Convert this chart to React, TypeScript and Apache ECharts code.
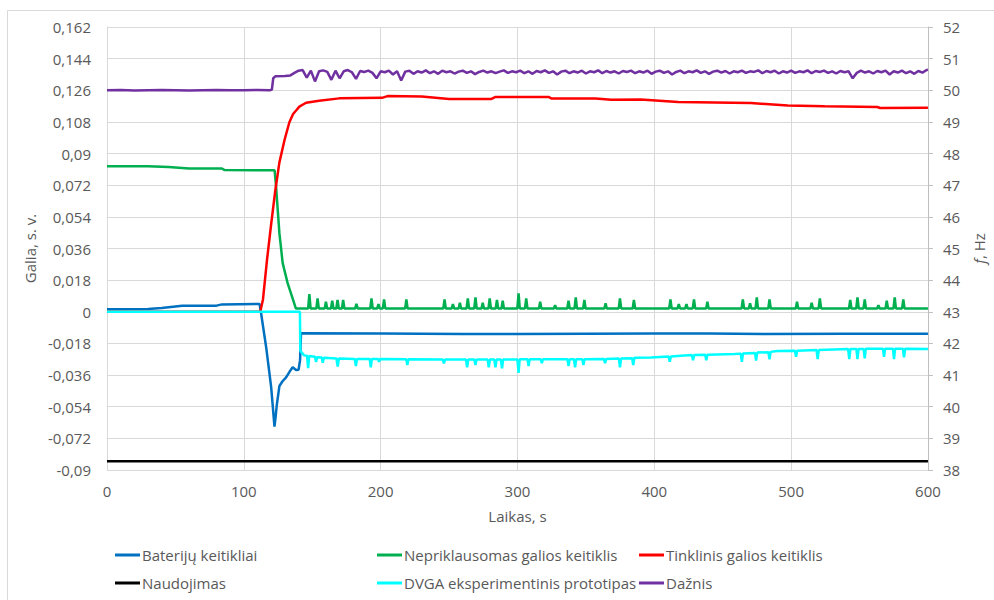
import React, { useEffect, useRef } from "react";
import * as echarts from "echarts";

const FONT = "'Open Sans', sans-serif";
const TEXT = "#595959";

const names = [
  "Baterijų keitikliai",
  "Nepriklausomas galios keitiklis",
  "Tinklinis galios keitiklis",
  "Naudojimas",
  "DVGA eksperimentinis prototipas",
  "Dažnis",
];
const colors = ["#0070C0", "#00B050", "#FF0000", "#000000", "#00FFFF", "#7030A0"];

// Baterijų keitikliai [s, s.v.]
const batteryData: [number, number][] = [
  [0, 0.0015], [30, 0.0016], [40, 0.0022], [50, 0.003], [55, 0.0034], [80, 0.0035],
  [84, 0.0042], [111.5, 0.0044], [112.4, 0.0003], [116.3, -0.02], [120, -0.043],
  [122.4, -0.0653], [123.2, -0.06], [124.1, -0.053], [126, -0.0422], [128.3, -0.0395],
  [130.9, -0.0373], [133.5, -0.034], [135.7, -0.0316], [138.2, -0.0331], [140, -0.033],
  [141.1, -0.0275], [141.8, -0.0122], [200, -0.0124], [260, -0.0126], [300, -0.0127],
  [350, -0.0125], [400, -0.0124], [440, -0.0123], [480, -0.0126], [540, -0.0125], [600, -0.0125],
];

// Nepriklausomas galios keitiklis: level before the step and the decay
const independentHead: [number, number][] = [
  [0, 0.0828], [30, 0.0828], [45, 0.0823], [60, 0.0815], [84, 0.0815], [86, 0.0806],
  [122.5, 0.0805], [123.5, 0.072], [124.8, 0.0578], [126, 0.0447], [128.4, 0.0277],
  [132, 0.0163], [135.6, 0.0078], [138, 0.0019],
];
const independentBase = 0.0019;
const independentSpikeTimes = [
  147.9, 153.9, 160, 164.6, 168.5, 172.6, 182.3, 193.3, 198.4, 202.5, 218.8, 246.7, 252.8,
  257.9, 263.7, 269.3, 274.6, 279.7, 285, 289.2, 300.8, 306.4, 316.6, 327.5, 337.3, 342.6,
  348.9, 364.4, 374.9, 385.1, 411.8, 417.9, 423.5, 429, 438.8, 464.7, 470, 474.9, 484.2,
  504.3, 515, 521, 543.2, 548.5, 553.8, 563.8, 569.9, 575.7, 582,
];
const independentSpikePeaks = [
  0.01, 0.0076, 0.0057, 0.0063, 0.0067, 0.0067, 0.0045, 0.0076, 0.0044, 0.007, 0.007, 0.007,
  0.0044, 0.0051, 0.0076, 0.0082, 0.0051, 0.0076, 0.0067, 0.0063, 0.0105, 0.0076, 0.0057,
  0.0038, 0.0063, 0.0082, 0.0067, 0.0048, 0.0076, 0.0067, 0.007, 0.0044, 0.0044, 0.007,
  0.0057, 0.007, 0.0048, 0.0082, 0.007, 0.0057, 0.0051, 0.0076, 0.0067, 0.0082, 0.007,
  0.0038, 0.0063, 0.0082, 0.007,
];
const independentEnd: [number, number] = [600, 0.0019];

// Tinklinis galios keitiklis
const gridData: [number, number][] = [
  [0, 0], [112, 0], [114, 0.007], [117, 0.03], [120, 0.05], [123, 0.069], [126, 0.085],
  [129.7, 0.0976], [133.3, 0.1078], [136, 0.1125], [138.2, 0.1145], [140.6, 0.1167],
  [145.5, 0.1189], [155, 0.12], [169.7, 0.1214], [201, 0.1217], [205, 0.1227], [230, 0.1225],
  [250, 0.1211], [281, 0.1211], [284, 0.1222], [322.7, 0.1222], [325, 0.1213], [357, 0.1213],
  [368.6, 0.1206], [390, 0.1208], [417.4, 0.1193], [470.6, 0.1187], [497.5, 0.1174],
  [524.5, 0.1169], [563, 0.1165], [565, 0.1159], [600, 0.116],
];

// Naudojimas
const loadData: [number, number][] = [
  [0, -0.085], [150, -0.085], [300, -0.085], [450, -0.085], [600, -0.085],
];

// DVGA eksperimentinis prototipas
const dvgaData: [number, number][] = [
  [0, 0], [141, 0], [141.3, -0.0222], [144, -0.0248], [146.2, -0.025], [147, -0.032],
  [147.8, -0.0252], [152, -0.0256], [152.8, -0.0286], [153.6, -0.0258], [157, -0.026],
  [157.7, -0.029], [158.5, -0.0262], [167.7, -0.0266], [168.6, -0.0312], [169.5, -0.0266],
  [181.1, -0.0268], [181.9, -0.0309], [182.7, -0.0268], [192, -0.0268], [192.8, -0.0316],
  [193.6, -0.0268], [198.1, -0.0268], [198.9, -0.0284], [199.7, -0.0268], [218.7, -0.027],
  [219.5, -0.0303], [220.3, -0.027], [245.4, -0.0272], [246.2, -0.0293], [247, -0.0272],
  [262.4, -0.0272], [263.2, -0.0316], [264, -0.0272], [268.5, -0.0272], [269.3, -0.0303],
  [270.1, -0.0272], [278.2, -0.0272], [279, -0.0316], [279.8, -0.0272], [283.1, -0.0272],
  [283.9, -0.0316], [284.7, -0.0272], [287.9, -0.0272], [288.7, -0.0322], [289.5, -0.0272],
  [300, -0.0272], [300.8, -0.0347], [301.6, -0.027], [307.3, -0.027], [308.1, -0.0309],
  [308.9, -0.027], [317, -0.027], [317.8, -0.0293], [318.6, -0.027], [336.5, -0.027],
  [337.3, -0.0309], [338.1, -0.027], [341.3, -0.027], [342.1, -0.0316], [342.9, -0.027],
  [347.4, -0.027], [348.2, -0.0303], [349, -0.027], [363.2, -0.0268], [364, -0.0293],
  [364.8, -0.0268], [374.1, -0.0266], [374.9, -0.0316], [375.7, -0.0266], [383.8, -0.0264],
  [384.6, -0.0303], [385.4, -0.0262], [397.7, -0.026], [410.5, -0.0255], [411.3, -0.0284],
  [412.1, -0.0254], [422, -0.0248], [427.5, -0.0246], [428.3, -0.0275], [429.1, -0.0246],
  [437.2, -0.0244], [438, -0.0275], [438.8, -0.0244], [458.7, -0.024], [463.2, -0.0238],
  [464, -0.0284], [464.8, -0.0237], [473.6, -0.0234], [474.4, -0.0278], [475.2, -0.0232],
  [483.4, -0.023], [484.2, -0.0271], [485, -0.0228], [490, -0.0223], [502.8, -0.0222],
  [503.6, -0.0256], [504.4, -0.0222], [518.6, -0.0218], [519.4, -0.0269], [520.2, -0.0218],
  [541.7, -0.0212], [542.5, -0.0269], [543.3, -0.0211], [547.7, -0.0211], [548.5, -0.0269],
  [549.3, -0.0211], [553, -0.0211], [553.8, -0.0265], [554.6, -0.021], [567.1, -0.021],
  [567.9, -0.0256], [568.7, -0.021], [574.4, -0.021], [575.2, -0.0269], [576, -0.021],
  [581.7, -0.021], [582.5, -0.0259], [583.3, -0.021], [600, -0.0212],
];

// Dažnis [Hz]: before and during the step
const freqHead: [number, number][] = [
  [0, 50.0], [10, 50.01], [20, 49.99], [30, 50.0], [40, 50.01], [50, 50.0], [60, 49.99],
  [70, 50.0], [80, 50.01], [90, 50.0], [100, 50.0], [110, 50.01], [119, 50.0], [120.5, 50.02],
  [121.5, 50.38], [123, 50.44], [130, 50.45], [134, 50.47], [137, 50.55], [140, 50.62],
];
// Dažnis samples every 3 s from 143 s
const freqTailStart = 143;
const freqTailStep = 3;
const freqTail = [
  50.64, 50.4, 50.62, 50.28, 50.6, 50.63, 50.58, 50.33, 50.62, 50.38, 50.6, 50.64, 50.57, 50.36,
  50.61, 50.58, 50.62, 50.55, 50.38, 50.6, 50.57, 50.62, 50.5, 50.6, 50.31, 50.59, 50.62, 50.52,
  50.6, 50.56, 50.63, 50.54, 50.6, 50.52, 50.62, 50.57, 50.6, 50.53, 50.59, 50.62, 50.55, 50.6,
  50.51, 50.58, 50.62, 50.56, 50.6, 50.54, 50.59, 50.63, 50.55, 50.6, 50.57, 50.62, 50.54, 50.6,
  50.52, 50.61, 50.57, 50.63, 50.55, 50.6, 50.5, 50.59, 50.62, 50.54, 50.6, 50.56, 50.62, 50.53,
  50.6, 50.57, 50.63, 50.54, 50.61, 50.56, 50.6, 50.53, 50.61, 50.58, 50.62, 50.54, 50.6, 50.56,
  50.62, 50.52, 50.59, 50.62, 50.55, 50.6, 50.5, 50.58, 50.62, 50.54, 50.6, 50.57, 50.63, 50.55,
  50.6, 50.52, 50.59, 50.62, 50.56, 50.61, 50.53, 50.6, 50.57, 50.62, 50.55, 50.6, 50.58, 50.63,
  50.54, 50.61, 50.57, 50.62, 50.53, 50.6, 50.56, 50.62, 50.55, 50.6, 50.57, 50.63, 50.54, 50.61,
  50.58, 50.62, 50.55, 50.6, 50.53, 50.61, 50.57, 50.6, 50.38, 50.55, 50.62, 50.56, 50.6, 50.53,
  50.61, 50.57, 50.62, 50.5, 50.6, 50.56, 50.62, 50.54, 50.6, 50.52, 50.61, 50.56, 50.64,
];
const freqEnd: [number, number] = [600, 50.65];

// Axis ranges
const leftMin = -0.09;
const leftMax = 0.162;
const leftInterval = 0.018;
const rightMin = 38;
const rightMax = 52;
const rightInterval = 1;
const xMin = 0;
const xMax = 600;
const xInterval = 100;

// Legend placement: [series index, left, top]
const legendSlots: [number, number, number][] = [
  [0, 115, 547],
  [3, 115, 575],
  [1, 377, 547],
  [4, 377, 575],
  [2, 639, 547],
  [5, 639, 575],
];

function buildIndependent(): [number, number][] {
  const out: [number, number][] = [...independentHead];
  independentSpikeTimes.forEach((t, i) => {
    out.push([t - 0.9, independentBase], [t, independentSpikePeaks[i]], [t + 0.9, independentBase]);
  });
  out.push(independentEnd);
  return out;
}

function buildFreq(): [number, number][] {
  const out: [number, number][] = [...freqHead];
  freqTail.forEach((v, i) => out.push([freqTailStart + i * freqTailStep, v]));
  out.push(freqEnd);
  return out;
}

const fmtLeft = (v: number) => {
  const r = parseFloat(v.toFixed(3));
  if (r === 0) return "0";
  return String(r).replace(".", ",");
};

export default function App() {
  const ref = useRef<HTMLDivElement>(null);
  useEffect(() => {
    if (!ref.current) return;
    const chart = echarts.init(ref.current, null, { renderer: "svg" });
    const datasets = [
      batteryData,
      buildIndependent(),
      gridData,
      loadData,
      dvgaData,
      buildFreq(),
    ];
    const legendText = {
      color: TEXT,
      fontFamily: FONT,
      fontSize: 15,
      lineHeight: 16,
      padding: [0, 0, 0, -3],
    };
    chart.setOption({
      animation: false,
      backgroundColor: "#ffffff",
      textStyle: { fontFamily: FONT },
      graphic: [
        {
          type: "rect",
          shape: { x: 7.5, y: 10.5, width: 1000, height: 620 },
          style: { fill: "none", stroke: "#D9D9D9", lineWidth: 1 },
          silent: true,
        },
      ],
      grid: { left: 107, right: 63, top: 27, bottom: 130, containLabel: false },
      legend: legendSlots.map(([si, left, top]) => ({
        left,
        top,
        itemWidth: 25,
        itemHeight: 3,
        icon: "rect",
        textStyle: legendText,
        selectedMode: false,
        padding: 0,
        data: [names[si]],
      })),
      xAxis: {
        type: "value",
        min: xMin,
        max: xMax,
        interval: xInterval,
        name: "Laikas, s",
        nameLocation: "middle",
        nameGap: 38,
        nameTextStyle: { color: TEXT, fontFamily: FONT, fontSize: 15 },
        axisLine: { show: true, lineStyle: { color: "#D9D9D9", width: 1 } },
        axisTick: { show: false },
        axisLabel: { color: TEXT, fontFamily: FONT, fontSize: 15, margin: 13 },
        splitLine: { show: true, lineStyle: { color: "#D9D9D9", width: 1 } },
      },
      yAxis: [
        {
          type: "value",
          min: leftMin,
          max: leftMax,
          interval: leftInterval,
          name: "Galia, s. v.",
          nameLocation: "middle",
          nameGap: 64,
          nameRotate: 90,
          nameTextStyle: { color: TEXT, fontFamily: FONT, fontSize: 15 },
          axisLine: { show: true, onZero: false, lineStyle: { color: "#D9D9D9", width: 1 } },
          axisTick: { show: false },
          axisLabel: { color: TEXT, fontFamily: FONT, fontSize: 15, margin: 16, formatter: fmtLeft },
          splitLine: { show: true, lineStyle: { color: "#D9D9D9", width: 1 } },
        },
        {
          type: "value",
          position: "right",
          min: rightMin,
          max: rightMax,
          interval: rightInterval,
          name: "{i|f}, Hz",
          nameLocation: "middle",
          nameGap: 38,
          nameRotate: 90,
          nameTextStyle: {
            color: TEXT,
            fontFamily: FONT,
            fontSize: 15,
            rich: { i: { fontStyle: "italic", color: TEXT, fontFamily: FONT, fontSize: 15 } },
          },
          axisLine: { show: true, onZero: false, lineStyle: { color: "#BFBFBF", width: 1 } },
          axisTick: { show: true, length: 5, inside: false, lineStyle: { color: "#BFBFBF" } },
          axisLabel: { color: TEXT, fontFamily: FONT, fontSize: 15, margin: 15 },
          splitLine: { show: false },
        },
      ],
      series: names.map((n, i) => ({
        name: n,
        type: "line",
        yAxisIndex: i === 5 ? 1 : 0,
        data: datasets[i],
        showSymbol: false,
        symbol: "none",
        smooth: false,
        color: colors[i],
        lineStyle: { color: colors[i], width: 2.5 },
        emphasis: { disabled: true },
        z: 2 + i,
      })),
    });
    return () => chart.dispose();
  }, []);
  return (
    <div
      ref={ref}
      style={{ position: "fixed", left: 0, top: 0, width: 994, height: 600, background: "#fff" }}
    />
  );
}
